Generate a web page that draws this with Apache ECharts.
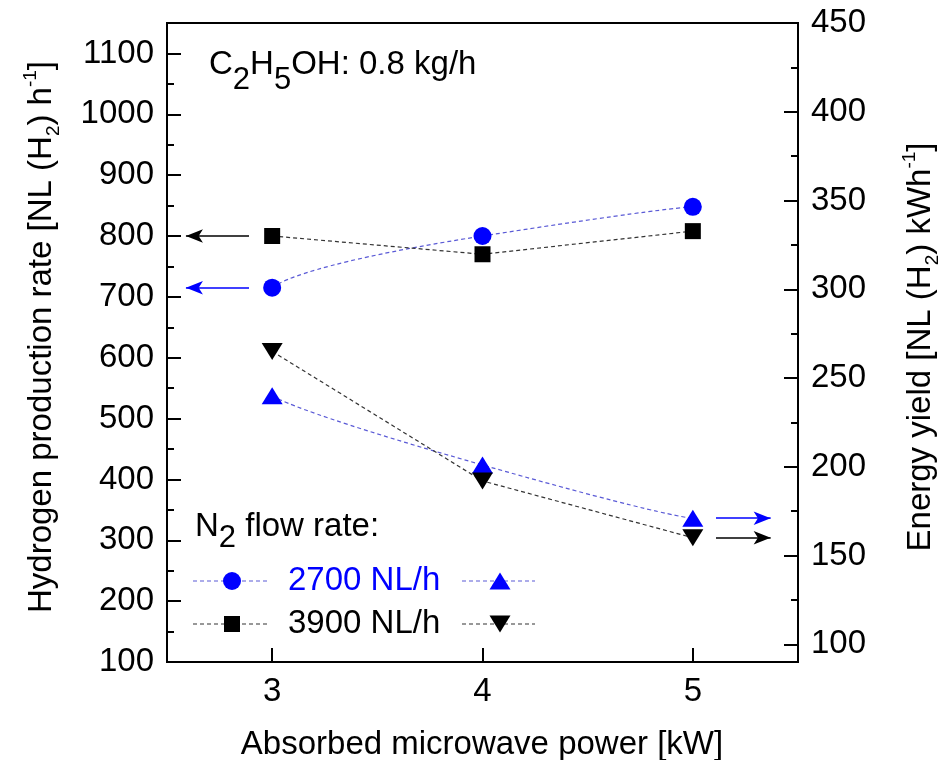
<!DOCTYPE html>
<html><head><meta charset="utf-8">
<script src="https://cdn.jsdelivr.net/npm/echarts@6/dist/echarts.min.js"></script>
<style>html,body{margin:0;padding:0;background:#fff}#c{width:952px;height:760px}</style>
</head><body><div id="c"></div>
<script>
// ---- data ----
const powerKW = [3, 4, 5];
const h2Rate2700 = [715, 800, 848];
const h2Rate3900 = [800, 770, 808];
const yield2700 = [240, 201, 171];
const yield3900 = [265, 192, 160];
const xTicks = [3, 4, 5];
const leftTicks = [100, 200, 300, 400, 500, 600, 700, 800, 900, 1000, 1100];
const leftMinor = [150, 250, 350, 450, 550, 650, 750, 850, 950, 1050];
const rightTicks = [100, 150, 200, 250, 300, 350, 400, 450];
const rightMinor = [125, 175, 225, 275, 325, 375, 425];
// arrow annotation x-extents (axis units)
const arrowLeft = [2.89, 2.59];
const arrowRight = [5.11, 5.37];

const FONT = 'Liberation Sans, Arial, sans-serif';
const FS = 33;
const BLUE = '#0000ff';
const BLUE_LINE = '#5a5ad6';
const BLACK_LINE = '#333333';
const dash = [4, 3];

function pts(ys) { return powerKW.map((x, i) => [x, ys[i]]); }

function arrow(x0, x1, y, color) {
  return {
    silent: true, animation: false,
    symbol: ['none', 'arrow'], symbolSize: [10, 17],
    label: { show: false },
    lineStyle: { color: color, type: 'solid', width: 1.5 },
    emphasis: { disabled: true },
    data: [[{ coord: [x0, y] }, { coord: [x1, y] }]]
  };
}

const tickStyle = { color: '#000', width: 2 };
function yAx(pos, min, max, ticks, len, labels) {
  return {
    type: 'value', position: pos, min: min, max: max,
    axisLine: { show: false },
    splitLine: { show: false },
    axisTick: { show: true, inside: true, length: len, lineStyle: tickStyle, customValues: ticks },
    axisLabel: labels ? { show: true, customValues: ticks, formatter: v => String(v), fontSize: FS, fontFamily: FONT, color: '#000', margin: 13 } : { show: false }
  };
}

const chart = echarts.init(document.getElementById('c'));
chart.setOption({
  animation: false,
  backgroundColor: '#fff',
  grid: { left: 167, right: 154, top: 23, bottom: 98, show: true, borderColor: '#000', borderWidth: 2, backgroundColor: 'transparent' },
  xAxis: {
    type: 'value', min: 2.5, max: 5.5,
    axisLine: { show: false }, splitLine: { show: false },
    axisTick: { show: true, inside: true, length: 14, lineStyle: tickStyle, customValues: xTicks },
    axisLabel: { customValues: xTicks, formatter: v => String(v), fontSize: FS, fontFamily: FONT, color: '#000', margin: 13 }
  },
  yAxis: [
    yAx('left', 100, 1150, leftTicks, 14, true),
    yAx('left', 100, 1150, leftMinor, 7, false),
    yAx('right', 90, 450, rightTicks, 14, true),
    yAx('right', 90, 450, rightMinor, 7, false)
  ],
  series: [
    {
      type: 'line', name: '2700 rate', xAxisIndex: 0, yAxisIndex: 0, data: pts(h2Rate2700),
      smooth: 0.9, symbol: 'circle', symbolSize: 18, z: 3,
      itemStyle: { color: BLUE, borderWidth: 0 },
      lineStyle: { color: BLUE_LINE, width: 1.2, type: dash },
      markLine: arrow(arrowLeft[0], arrowLeft[1], h2Rate2700[0], BLUE)
    },
    {
      type: 'line', name: '3900 rate', xAxisIndex: 0, yAxisIndex: 0, data: pts(h2Rate3900),
      symbol: 'rect', symbolSize: 16, z: 3,
      itemStyle: { color: '#000', borderWidth: 0 },
      lineStyle: { color: BLACK_LINE, width: 1.2, type: dash },
      markLine: arrow(arrowLeft[0], arrowLeft[1], h2Rate3900[0], '#000')
    },
    {
      type: 'line', name: '2700 yield', xAxisIndex: 0, yAxisIndex: 2, data: pts(yield2700),
      smooth: 0.9, symbol: 'triangle', symbolSize: [21, 17], z: 3,
      itemStyle: { color: BLUE, borderWidth: 0 },
      lineStyle: { color: BLUE_LINE, width: 1.2, type: dash },
      markLine: arrow(arrowRight[0], arrowRight[1], yield2700[2], BLUE)
    },
    {
      type: 'line', name: '3900 yield', xAxisIndex: 0, yAxisIndex: 2, data: pts(yield3900),
      symbol: 'triangle', symbolRotate: 180, symbolSize: [21, 17], z: 3,
      itemStyle: { color: '#000', borderWidth: 0 },
      lineStyle: { color: BLACK_LINE, width: 1.2, type: dash },
      markLine: arrow(arrowRight[0], arrowRight[1], yield3900[2], '#000')
    }
  ],
  graphic: [
    // chart annotation
    {
      type: 'text', x: 209, y: 33,
      style: {
        text: '{m|C}{s|2}{m|H}{s|5}{m|OH: 0.8 kg/h}', align: 'left', verticalAlign: 'top',
        rich: {
          m: { fontSize: FS, fontFamily: FONT, fill: '#000', lineHeight: 63 },
          s: { fontSize: 31, fontFamily: FONT, fill: '#000', lineHeight: 31, verticalAlign: 'bottom' }
        }
      }
    },
    // left axis title
    {
      type: 'text', x: 42, y: 337, rotation: Math.PI / 2,
      style: {
        text: '{m|Hydrogen production rate [NL (H}{s|2}{m|) h}{u|-1}{m|]}', align: 'center', verticalAlign: 'middle',
        rich: {
          m: { fontSize: FS, fontFamily: FONT, fill: '#000', lineHeight: 42 },
          s: { fontSize: 19, fontFamily: FONT, fill: '#000', lineHeight: 19, verticalAlign: 'bottom' },
          u: { fontSize: 19, fontFamily: FONT, fill: '#000', lineHeight: 19, verticalAlign: 'top' }
        }
      }
    },
    // right axis title
    {
      type: 'text', x: 921, y: 347, rotation: Math.PI / 2,
      style: {
        text: '{m|Energy yield [NL (H}{s|2}{m|) kWh}{u|-1}{m|]}', align: 'center', verticalAlign: 'middle',
        rich: {
          m: { fontSize: FS, fontFamily: FONT, fill: '#000', lineHeight: 42 },
          s: { fontSize: 19, fontFamily: FONT, fill: '#000', lineHeight: 19, verticalAlign: 'bottom' },
          u: { fontSize: 19, fontFamily: FONT, fill: '#000', lineHeight: 19, verticalAlign: 'top' }
        }
      }
    },
    // x axis title
    {
      type: 'text', x: 482, y: 745,
      style: { text: 'Absorbed microwave power [kW]', align: 'center', verticalAlign: 'middle', fontSize: FS, fontFamily: FONT, fill: '#000' }
    },
    // legend
    {
      type: 'text', x: 195, y: 499,
      style: {
        text: '{m|N}{s|2}{m| flow rate:}', align: 'left', verticalAlign: 'top',
        rich: {
          m: { fontSize: FS, fontFamily: FONT, fill: '#000', lineHeight: 55 },
          s: { fontSize: 31, fontFamily: FONT, fill: '#000', lineHeight: 31, verticalAlign: 'bottom' }
        }
      }
    },
    { type: 'line', shape: { x1: 193, y1: 581, x2: 267, y2: 581 }, style: { stroke: BLUE_LINE, lineWidth: 1.2, lineDash: dash } },
    { type: 'circle', shape: { cx: 232, cy: 581, r: 9 }, style: { fill: BLUE } },
    { type: 'text', x: 288, y: 581, style: { text: '2700 NL/h', align: 'left', verticalAlign: 'middle', fontSize: FS, fontFamily: FONT, fill: BLUE } },
    { type: 'line', shape: { x1: 462, y1: 581, x2: 535, y2: 581 }, style: { stroke: BLUE_LINE, lineWidth: 1.2, lineDash: dash } },
    { type: 'polygon', shape: { points: [[500, 572.5], [510.5, 589.5], [489.5, 589.5]] }, style: { fill: BLUE } },
    { type: 'line', shape: { x1: 193, y1: 624, x2: 267, y2: 624 }, style: { stroke: BLACK_LINE, lineWidth: 1.2, lineDash: dash } },
    { type: 'rect', shape: { x: 224, y: 616, width: 16, height: 16 }, style: { fill: '#000' } },
    { type: 'text', x: 288, y: 624, style: { text: '3900 NL/h', align: 'left', verticalAlign: 'middle', fontSize: FS, fontFamily: FONT, fill: '#000' } },
    { type: 'line', shape: { x1: 462, y1: 624, x2: 535, y2: 624 }, style: { stroke: BLACK_LINE, lineWidth: 1.2, lineDash: dash } },
    { type: 'polygon', shape: { points: [[489.5, 615.5], [510.5, 615.5], [500, 632.5]] }, style: { fill: '#000' } }
  ]
});
</script></body></html>
